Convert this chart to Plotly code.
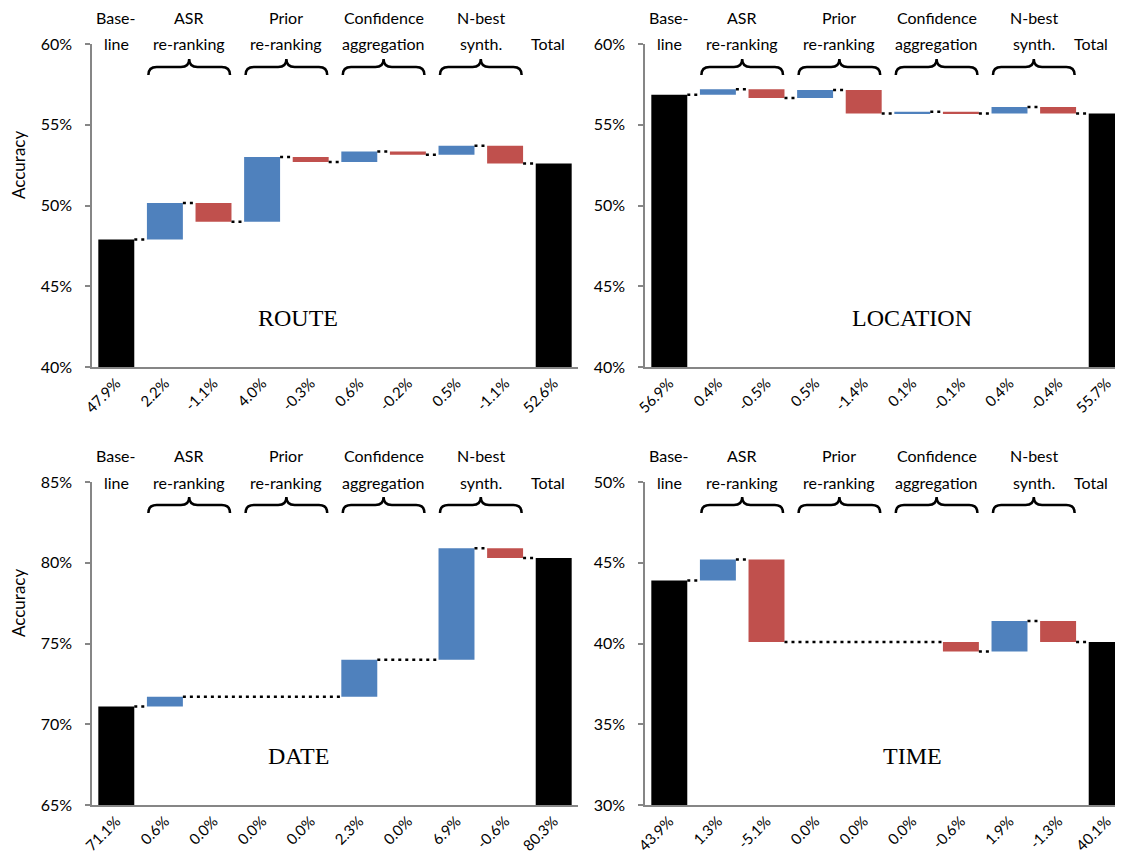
import plotly.graph_objects as go

W, H = 1123, 867

# ---------------- data ----------------
step_names = ["Baseline", "ASR +", "ASR -", "Prior +", "Prior -",
              "Conf +", "Conf -", "N-best +", "N-best -", "Total"]

route_values = [47.9, 2.25, -1.15, 4.0, -0.3, 0.65, -0.2, 0.55, -1.1]
route_labels = ["47.9%", "2.2%", "-1.1%", "4.0%", "-0.3%", "0.6%", "-0.2%", "0.5%", "-1.1%", "52.6%"]

location_values = [56.85, 0.35, -0.55, 0.5, -1.45, 0.1, -0.1, 0.4, -0.4]
location_labels = ["56.9%", "0.4%", "-0.5%", "0.5%", "-1.4%", "0.1%", "-0.1%", "0.4%", "-0.4%", "55.7%"]

date_values = [71.1, 0.6, 0.0, 0.0, 0.0, 2.3, 0.0, 6.9, -0.6]
date_labels = ["71.1%", "0.6%", "0.0%", "0.0%", "0.0%", "2.3%", "0.0%", "6.9%", "-0.6%", "80.3%"]

time_values = [43.9, 1.3, -5.1, 0.0, 0.0, 0.0, -0.6, 1.9, -1.3]
time_labels = ["43.9%", "1.3%", "-5.1%", "0.0%", "0.0%", "0.0%", "-0.6%", "1.9%", "-1.3%", "40.1%"]

group_line1 = ["Base-", "ASR", "Prior", "Confidence", "N-best", ""]
group_line2 = ["line", "re-ranking", "re-ranking", "aggregation", "synth.", "Total"]
group_pos = [0, 1.5, 3.5, 5.5, 7.5, 8.88]
brace_groups = [1.5, 3.5, 5.5, 7.5]

panel_titles = ["ROUTE", "LOCATION", "DATE", "TIME"]
y_ranges = [[40, 60], [40, 60], [65, 85], [30, 50]]

# ---------------- style ----------------
BLUE = "#4F81BD"
RED = "#C0504D"
BLACK = "#000000"
AXIS_GRAY = "#868686"
FONT = "Lato"
BAR_W = 0.74
OFF = 8  # page body margin


def px(s):
    return (s - OFF) / W


def py(s):
    return 1 - (s - OFF) / H


panels = [
    dict(values=route_values, labels=route_labels, title=panel_titles[0], yr=y_ranges[0],
         xdom=[px(92), px(578)], ydom=[py(367), py(44)], top=0, tx=298, total_shift=0.0),
    dict(values=location_values, labels=location_labels, title=panel_titles[1], yr=y_ranges[1],
         xdom=[px(645), px(1131)], ydom=[py(367), py(44)], top=0, tx=912, total_shift=-0.2),
    dict(values=date_values, labels=date_labels, title=panel_titles[2], yr=y_ranges[2],
         xdom=[px(92), px(578)], ydom=[py(805), py(482)], top=438, tx=298, total_shift=0.0),
    dict(values=time_values, labels=time_labels, title=panel_titles[3], yr=y_ranges[3],
         xdom=[px(645), px(1131)], ydom=[py(805), py(482)], top=438, tx=912, total_shift=-0.2),
]

fig = go.Figure()
annotations = []
shapes = []

for k, p in enumerate(panels):
    n = k + 1
    xa = "x" if n == 1 else f"x{n}"
    ya = "y" if n == 1 else f"y{n}"
    vals = p["values"]

    # waterfall geometry from the values
    bases, heights, colors, levels = [], [], [], []
    cum = 0.0
    for i, v in enumerate(vals):
        if i == 0:
            bases.append(0)
            heights.append(v)
            colors.append(BLACK)
            cum = v
        else:
            bases.append(min(cum, cum + v))
            heights.append(abs(v))
            colors.append(BLUE if v > 0 else RED)
            cum = cum + v
        levels.append(cum)
    bases.append(0)
    heights.append(cum)
    colors.append(BLACK)
    levels.append(cum)

    xs = list(range(len(heights)))
    fig.add_trace(go.Bar(
        x=xs, y=heights, base=bases, width=BAR_W,
        marker=dict(color=colors, line=dict(width=0)),
        xaxis=xa, yaxis=ya, showlegend=False, hoverinfo="skip",
    ))

    # connectors (merged when contiguous across zero-valued steps)
    segs = []
    for i in range(len(heights) - 1):
        segs.append([i + BAR_W / 2, i + 1 - BAR_W / 2, levels[i]])
        if i + 1 < len(heights) - 1 and vals[i + 1] == 0:
            segs.append([i + 1 - BAR_W / 2, i + 1 + BAR_W / 2, levels[i + 1]])
    merged = []
    for s in segs:
        if merged and abs(merged[-1][1] - s[0]) < 1e-9 and abs(merged[-1][2] - s[2]) < 1e-9:
            merged[-1][1] = s[1]
        else:
            merged.append(list(s))
    cx, cy = [], []
    for s in merged:
        cx += [s[0], s[1], None]
        cy += [s[2], s[2], None]
    fig.add_trace(go.Scatter(
        x=cx, y=cy, mode="lines",
        line=dict(color=BLACK, width=2.5, dash="3px,4px"),
        xaxis=xa, yaxis=ya, showlegend=False, hoverinfo="skip",
    ))

    xkey = "xaxis" if n == 1 else f"xaxis{n}"
    ykey = "yaxis" if n == 1 else f"yaxis{n}"
    fig.update_layout({
        xkey: dict(domain=p["xdom"], range=[-0.5, 9.5], anchor=ya, automargin=False,
                   tickmode="array", tickvals=xs, ticktext=p["labels"],
                   tickangle=-45, tickfont=dict(family=FONT, size=15, color=BLACK),
                   showline=True, linecolor=AXIS_GRAY, linewidth=1.5,
                   ticks="", showgrid=False, zeroline=False, fixedrange=True),
        ykey: dict(domain=p["ydom"], range=p["yr"], anchor=xa, automargin=False,
                   dtick=5, ticksuffix="%", tickfont=dict(family=FONT, size=16, color=BLACK),
                   showline=True, linecolor=AXIS_GRAY, linewidth=1.5,
                   ticks="outside", ticklen=5, tickcolor=AXIS_GRAY, tickwidth=1.5,
                   ticklabelstandoff=10,
                   showgrid=False, zeroline=False, fixedrange=True),
    })

    top = p["top"]
    # group labels
    for j, (gx, l1, l2) in enumerate(zip(group_pos, group_line1, group_line2)):
        if j == len(group_pos) - 1:
            gx = gx + p["total_shift"]
        if l1:
            annotations.append(dict(x=gx, y=py(17 + top), xref=xa, yref="paper", text=l1,
                                    showarrow=False, xanchor="center", yanchor="middle",
                                    font=dict(family=FONT, size=16, color=BLACK)))
        annotations.append(dict(x=gx, y=py(44 + top), xref=xa, yref="paper", text=l2,
                                showarrow=False, xanchor="center", yanchor="middle",
                                font=dict(family=FONT, size=16, color=BLACK)))
    # braces
    for c in brace_groups:
        L, R, r = c - 0.84, c + 0.84, 0.17
        yE, yH, yP = py(75 + top), py(67 + top), py(59 + top)
        path = (f"M {L},{yE} Q {L},{yH} {L + r},{yH} L {c - r},{yH} "
                f"Q {c},{yH} {c},{yP} Q {c},{yH} {c + r},{yH} "
                f"L {R - r},{yH} Q {R},{yH} {R},{yE}")
        shapes.append(dict(type="path", path=path, xref=xa, yref="paper",
                           line=dict(color=BLACK, width=2.5)))
    # panel title
    annotations.append(dict(x=px(p["tx"]), y=py(318 + top), xref="paper", yref="paper",
                            text=p["title"], showarrow=False, xanchor="center", yanchor="middle",
                            font=dict(family="Liberation Serif", size=24, color=BLACK)))
    # y title on left panels
    if n in (1, 3):
        annotations.append(dict(x=px(18), y=py(165 + top), xref="paper", yref="paper",
                                text="Accuracy", textangle=-90, showarrow=False,
                                xanchor="center", yanchor="middle",
                                font=dict(family=FONT, size=17, color=BLACK)))

fig.update_layout(
    width=W, height=H,
    margin=dict(l=0, r=0, t=0, b=0, autoexpand=False),
    paper_bgcolor="white", plot_bgcolor="white",
    barmode="overlay",
    annotations=annotations, shapes=shapes,
    font=dict(family=FONT, color=BLACK),
)

fig.write_html("out.html")
